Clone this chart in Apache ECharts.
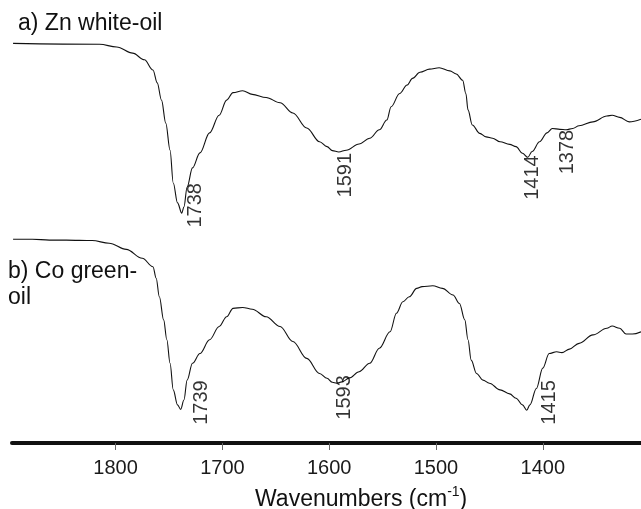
<!DOCTYPE html>
<html>
<head>
<meta charset="utf-8">
<script src="https://cdn.jsdelivr.net/npm/echarts@6/dist/echarts.min.js"></script>
<style>
  html, body { margin: 0; padding: 0; background: #fff; }
  #chart { width: 641px; height: 509px; }
</style>
</head>
<body>
<div id="chart"></div>
<script>
// IR spectra (transmittance, offset for stacking), wavenumber axis reversed
const wavenumbersA = [1896,1815,1799,1784,1773,1765,1761,1757,1753,1749,1746,1742,1738,1736,1733,1728,1721,1712,1703,1696,1690,1681,1672,1659,1646,1634,1621,1609,1602,1597,1591,1584,1572,1562,1553,1546,1542,1534,1527,1522,1515,1506,1497,1487,1481,1475,1472,1470,1466,1459,1453,1447,1440,1431,1425,1419,1414,1410,1403,1396,1391,1384,1378,1372,1366,1353,1340,1335,1328,1319,1308];
const transmA = [90.2,90.0,89.4,88.0,86.5,84.2,81.3,77.4,72.2,66.1,58.7,54.2,51.9,53.3,57.8,62.1,65.5,70.0,74.0,77.4,79.1,79.5,78.7,78.0,76.8,74.5,71.1,68.0,66.9,66.0,65.7,66.1,67.5,68.8,70.7,72.9,75.9,78.9,80.8,82.3,83.7,84.4,84.7,84.0,83.3,81.9,78.9,75.2,71.8,69.9,69.1,68.8,68.0,67.4,66.9,65.4,64.5,65.8,68.0,70.0,71.0,70.8,70.7,71.0,71.6,72.5,73.8,74.0,73.5,72.5,73.1];

const wavenumbersB = [1896,1878,1862,1846,1822,1806,1790,1775,1765,1762,1759,1755,1752,1749,1746,1742,1739,1736,1733,1728,1721,1712,1703,1696,1690,1681,1672,1659,1646,1634,1621,1609,1602,1597,1593,1588,1581,1572,1562,1553,1543,1537,1531,1525,1518,1513,1503,1494,1484,1478,1473,1470,1467,1462,1456,1450,1440,1431,1425,1419,1415,1412,1406,1400,1394,1387,1382,1375,1366,1353,1340,1335,1328,1322,1316,1308];
const transmB = [46.0,46.0,45.8,45.8,45.7,45.1,43.7,41.7,39.8,37.2,33.0,27.8,23.3,18.0,12.0,8.6,7.6,9.7,14.2,18.0,20.2,23.3,26.3,28.5,30.4,30.6,30.2,28.5,26.3,22.9,19.1,15.7,14.6,13.7,13.5,13.8,14.7,16.1,18.0,21.4,25.1,29.3,31.9,33.0,34.9,35.3,35.5,34.9,33.4,31.5,27.8,23.3,18.7,15.7,14.2,13.5,12.0,11.1,10.1,8.6,7.4,8.6,12.3,16.9,20.2,20.6,20.4,21.2,22.5,24.4,25.9,26.4,25.9,24.6,24.6,25.1];

// assigned band positions (cm-1)
const peaksA = [1738, 1591, 1414, 1378];
const peaksB = [1739, 1593, 1415];

const tickValues = [1800, 1700, 1600, 1500, 1400];
const traceTitles = ['a) Zn white-oil', 'b) Co green-\noil'];

// label placement relative to the band point, screen px [right, down]
const nudgeA = [[14, -30], [7, 1], [5, -2], [1, 0]];
const nudgeB = [[21, -29], [8, -8], [23, -30]];

const FONT = '"Liberation Sans", Arial, Helvetica, sans-serif';

function pairs(xs, ys) { return xs.map((x, i) => [x, ys[i]]); }

function peakPoints(peaks, xs, ys, nudges) {
  return peaks.map((p, i) => {
    const v = ys[xs.indexOf(p)];
    const n = nudges[i];
    // the offset is applied in the rotated label frame
    return {
      value: [p, v],
      label: { offset: [-n[1], n[0]] }
    };
  });
}

function lineSeries(data) {
  return {
    type: 'line',
    data: data,
    showSymbol: false,
    smooth: 0.35,
    smoothMonotone: 'x',
    lineStyle: { color: '#111', width: 1.1 },
    silent: true,
    z: 2
  };
}

function labelSeries(data) {
  return {
    type: 'scatter',
    data: data,
    symbolSize: 1,
    itemStyle: { color: 'rgba(0,0,0,0)' },
    silent: true,
    z: 3,
    label: {
      show: true,
      position: 'inside',
      rotate: 90,
      align: 'right',
      verticalAlign: 'middle',
      color: '#000',
      fontSize: 20,
      fontFamily: FONT,
      formatter: p => String(p.value[0])
    }
  };
}

const chart = echarts.init(document.getElementById('chart'), null, { renderer: 'canvas' });

chart.setOption({
  animation: false,
  backgroundColor: '#ffffff',
  grid: { left: 12, right: 0, top: 0, bottom: 66 },
  xAxis: {
    type: 'value',
    inverse: true,
    min: 1308,
    max: 1897,
    axisLine: { show: true, lineStyle: { color: '#111', width: 4 } },
    axisTick: {
      show: true,
      length: 7,
      customValues: tickValues,
      lineStyle: { color: '#666', width: 1 }
    },
    axisLabel: {
      show: true,
      customValues: tickValues,
      margin: 15,
      color: '#1a1a1a',
      fontSize: 20,
      fontFamily: FONT,
      formatter: v => String(v)
    },
    splitLine: { show: false }
  },
  yAxis: {
    type: 'value',
    min: 0,
    max: 100,
    show: false
  },
  series: [
    lineSeries(pairs(wavenumbersA, transmA)),
    lineSeries(pairs(wavenumbersB, transmB)),
    labelSeries(peakPoints(peaksA, wavenumbersA, transmA, nudgeA)),
    labelSeries(peakPoints(peaksB, wavenumbersB, transmB, nudgeB))
  ],
  graphic: [
    {
      type: 'text', left: 18, top: 12,
      style: { text: traceTitles[0], font: '23px ' + FONT, fill: '#111' }
    },
    {
      type: 'text', left: 8, top: 259,
      style: { text: traceTitles[1], font: '23px ' + FONT, fill: '#111', lineHeight: 26 }
    },
    {
      type: 'text', left: 255, top: 485,
      style: {
        text: '{n|Wavenumbers (cm}{s|-1}{n|)}',
        fill: '#111',
        rich: {
          n: { fontSize: 23, fontFamily: FONT, color: '#111', lineHeight: 26, verticalAlign: 'bottom' },
          s: { fontSize: 14, fontFamily: FONT, color: '#111', lineHeight: 26, verticalAlign: 'top', padding: [0, 0, 8, 0] }
        }
      }
    }
  ]
});
</script>
</body>
</html>
